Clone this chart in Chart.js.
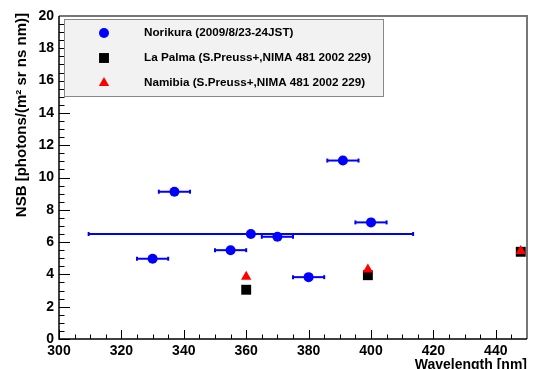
<!DOCTYPE html>
<html>
<head>
<meta charset="utf-8">
<script src="https://cdn.jsdelivr.net/npm/chart.js@4/dist/chart.umd.min.js"></script>
<style>
  html, body { margin: 0; padding: 0; background: #fff; }
  #wrap { width: 534px; height: 369px; }
</style>
</head>
<body>
<div id="wrap"><canvas id="nsbChart"></canvas></div>
<script>
// Norikura points (x error = half width of the filter band)
var noriX    = [330, 337, 355, 361.5, 370, 380, 391, 400];
var noriY    = [4.97, 9.12, 5.5, 6.5, 6.33, 3.83, 11.05, 7.22];
var noriXErr = [5, 5, 5, 52, 5, 5, 5, 5];

// La Palma / Namibia (S.Preuss+)
var palmaX = [360, 399, 448];
var palmaY = [3.05, 3.95, 5.4];
var namibX = [360, 399, 448];
var namibY = [3.85, 4.3, 5.45];

var xMin = 300, xMax = 450, xStep = 20;
var yMin = 0, yMax = 20, yStep = 2;
var xTickLabels = [300, 320, 340, 360, 380, 400, 420, 440];

var labels = [
    'Norikura (2009/8/23-24JST)',
    'La Palma (S.Preuss+,NIMA 481 2002 229)',
    'Namibia (S.Preuss+,NIMA 481 2002 229)'
];

function toPoints(xs, ys) {
    var out = [];
    for (var i = 0; i < xs.length; i++) out.push({x: xs[i], y: ys[i]});
    return out;
}

var datasets = [];

datasets.push({
    label: labels[2], data: toPoints(namibX, namibY), order: 0,
    pointStyle: 'triangle', pointRadius: 6, pointBackgroundColor: '#ff0000',
    pointBorderColor: '#ff0000', pointBorderWidth: 0, showLine: false
});
datasets.push({
    label: labels[1], data: toPoints(palmaX, palmaY), order: 1,
    pointStyle: 'rect', pointRadius: 7, pointBackgroundColor: '#000000',
    pointBorderColor: '#000000', pointBorderWidth: 0, showLine: false
});
datasets.push({
    label: labels[0], data: toPoints(noriX, noriY), order: 2,
    pointStyle: 'circle', pointRadius: 5, pointBackgroundColor: '#0000ff',
    pointBorderColor: '#0000ff', pointBorderWidth: 0, showLine: false
});

// x error bars as short line datasets
for (var i = 0; i < noriX.length; i++) {
    datasets.push({
        label: '', isErr: true, order: 3,
        data: [{x: noriX[i] - noriXErr[i], y: noriY[i]}, {x: noriX[i] + noriXErr[i], y: noriY[i]}],
        showLine: true, borderColor: '#0000ff', borderWidth: 2,
        pointStyle: 'line', rotation: 90, pointRadius: 2,
        pointBorderColor: '#0000ff', pointBorderWidth: 2
    });
}

// frame, inward ticks, axis titles and legend box
var rootStyle = {
    id: 'rootStyle',
    afterDraw: function(chart) {
        var c = chart.ctx, a = chart.chartArea;
        var xs = chart.scales.x, ys = chart.scales.y;
        c.save();

        // ticks
        c.strokeStyle = '#000';
        c.lineWidth = 1;
        for (var v = yMin; v <= yMax + 1e-9; v += 0.5) {
            var py = Math.round(ys.getPixelForValue(v)) + 0.5;
            var len = (v % yStep === 0) ? 11 : 5.5;
            c.beginPath(); c.moveTo(a.left, py); c.lineTo(a.left + len, py); c.stroke();
        }
        for (var w = xMin; w <= xMax + 1e-9; w += 5) {
            var px = Math.round(xs.getPixelForValue(w)) + 0.5;
            var l2 = ((w - xMin) % xStep === 0) ? 9 : 4.5;
            c.beginPath(); c.moveTo(px, a.bottom); c.lineTo(px, a.bottom - l2); c.stroke();
        }

        // frame
        c.lineWidth = 2;
        c.strokeStyle = '#777';
        c.beginPath(); c.moveTo(a.left, a.top); c.lineTo(a.right, a.top); c.lineTo(a.right, a.bottom); c.stroke();
        c.strokeStyle = '#000';
        c.lineWidth = 1.5;
        c.beginPath(); c.moveTo(a.left, a.top); c.lineTo(a.left, a.bottom); c.lineTo(a.right, a.bottom); c.stroke();

        // axis titles
        c.fillStyle = '#000';
        c.font = 'bold 14px "Liberation Sans", Arial, sans-serif';
        c.textAlign = 'right';
        c.textBaseline = 'alphabetic';
        c.fillText('Wavelength [nm]', a.right, 369);

        c.save();
        c.translate(22, 13);
        c.rotate(-Math.PI / 2);
        c.font = 'bold 15px "Liberation Sans", Arial, sans-serif';
        c.textAlign = 'right';
        c.textBaseline = 'middle';
        c.fillText('NSB [photons/(m\u00B2 sr ns nm)]', 0, 0);
        c.restore();

        // legend
        c.fillStyle = '#f2f2f2';
        c.fillRect(64, 19, 319, 77);
        c.strokeStyle = '#888';
        c.lineWidth = 1;
        c.strokeRect(64.5, 19.5, 319, 77);
        var rows = [chart.data.datasets[2], chart.data.datasets[1], chart.data.datasets[0]];
        c.font = 'bold 11.7px "Liberation Sans", Arial, sans-serif';
        c.textAlign = 'left';
        c.textBaseline = 'middle';
        for (var r = 0; r < rows.length; r++) {
            var ds = rows[r];
            var ry = 33 + r * 25;
            c.fillStyle = ds.pointBackgroundColor;
            c.strokeStyle = ds.pointBorderColor;
            Chart.helpers.drawPoint(c, {pointStyle: ds.pointStyle, radius: ds.pointRadius, borderWidth: 0, rotation: 0}, 104, ry);
            c.fillStyle = '#000';
            c.fillText(ds.label, 144, ry);
        }
        c.restore();
    }
};

var ctx = document.getElementById('nsbChart').getContext('2d');
var nsbChart = new Chart(ctx, {
    type: 'scatter',
    data: { datasets: datasets },
    options: {
        responsive: true,
        maintainAspectRatio: false,
        animation: false,
        layout: { padding: { top: 16, right: 4, left: 0, bottom: 0 } },
        plugins: { legend: { display: false }, tooltip: { enabled: false } },
        scales: {
            x: {
                type: 'linear', min: xMin, max: xMax,
                border: { display: false },
                grid: { display: false, drawTicks: false },
                afterBuildTicks: function(s) {
                    s.ticks = xTickLabels.map(function(v) { return {value: v}; });
                },
                ticks: {
                    padding: 4, color: '#000', maxRotation: 0, autoSkip: false,
                    font: { family: '"Liberation Sans", Arial, sans-serif', size: 14, weight: 'bold' }
                },
                afterFit: function(s) { s.height = 30; }
            },
            y: {
                type: 'linear', min: yMin, max: yMax,
                border: { display: false },
                grid: { display: false, drawTicks: false },
                ticks: {
                    stepSize: yStep, padding: 5, color: '#000',
                    font: { family: '"Liberation Sans", Arial, sans-serif', size: 14, weight: 'bold' }
                },
                afterFit: function(s) { s.width = 59; }
            }
        }
    },
    plugins: [rootStyle]
});
</script>
</body>
</html>
